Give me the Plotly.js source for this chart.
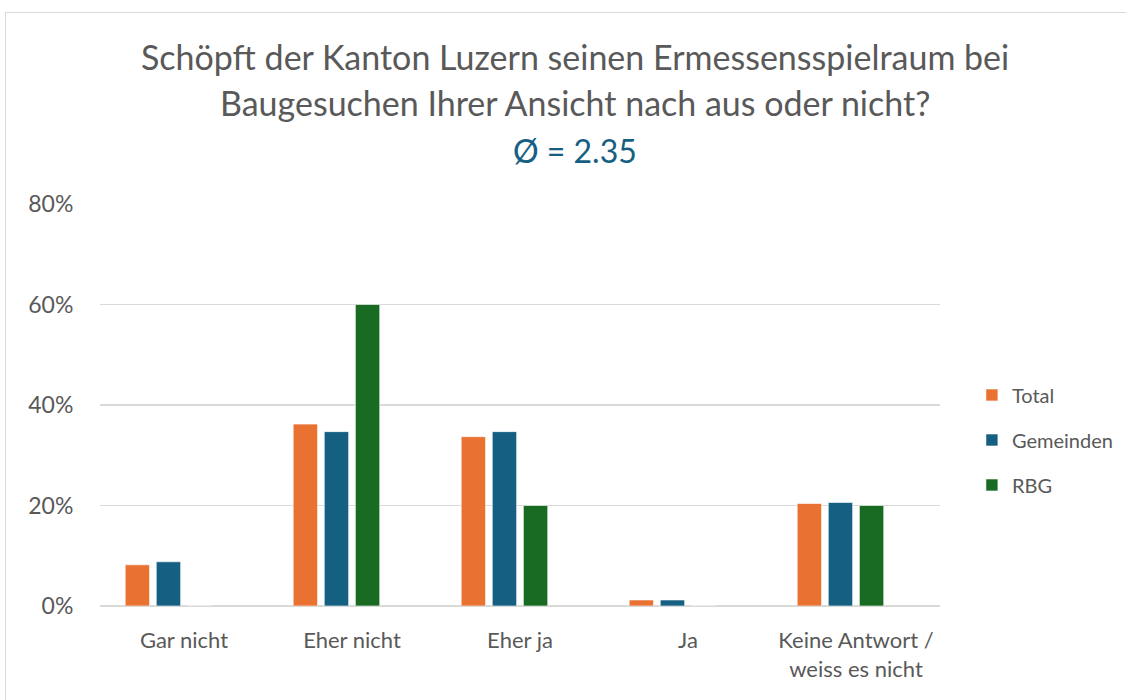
<!DOCTYPE html>
<html>
<head>
<meta charset="utf-8">
<script src="https://cdn.plot.ly/plotly-3.0.1.min.js"></script>
<style>
  html, body { margin: 0; padding: 0; background: #ffffff; width: 1126px; height: 700px; overflow: hidden; }
  #frame { position: absolute; left: 5px; top: 12px; width: 1200px; height: 800px; border: 1px solid #d9d9d9; box-sizing: border-box; }
  #chart { position: absolute; left: 0; top: 0; width: 1126px; height: 700px; }
</style>
</head>
<body>
<div id="frame"></div>
<div id="chart"></div>
<script>
const categories = ["Gar nicht", "Eher nicht", "Eher ja", "Ja", "Keine Antwort /<br>weiss es nicht"];
const seriesNames = ["Total", "Gemeinden", "RBG"];
const totalValues = [0.082, 0.362, 0.337, 0.012, 0.204];
const gemeindenValues = [0.088, 0.347, 0.347, 0.012, 0.206];
const rbgValues = [0, 0.60, 0.20, 0, 0.20];
const yTickValues = [0, 0.2, 0.4, 0.6, 0.8];
const yTickLabels = ["0%", "20%", "40%", "60%", "80%"];
const titleLine1 = "Schöpft der Kanton Luzern seinen Ermessensspielraum bei";
const titleLine2 = "Baugesuchen Ihrer Ansicht nach aus oder nicht?";
const meanLabel = "Ø = 2.35";

const colors = ["#E97132", "#156082", "#196B24"];
const offsets = [-0.35, -0.165, 0.02];
const values = [totalValues, gemeindenValues, rbgValues];
const FONT = "Lato, 'Open Sans', sans-serif";
const TXT = "#595959";

const traces = seriesNames.map((name, i) => ({
  type: "bar",
  name: name,
  x: categories,
  y: values[i],
  offset: offsets[i],
  width: 0.145,
  legendgroup: "g" + i,
  marker: { color: colors[i], line: { color: "rgba(255,255,255,0.6)", width: 1 } },
  hoverinfo: "skip"
}));

const layout = {
  width: 1126,
  height: 700,
  margin: { l: 100, r: 186, t: 204, b: 94, autoexpand: false },
  paper_bgcolor: "rgba(0,0,0,0)",
  plot_bgcolor: "rgba(0,0,0,0)",
  font: { family: FONT, color: TXT, size: 20 },
  showlegend: true,
  legend: {
    x: 1.038, xanchor: "left",
    y: 0.413, yanchor: "middle",
    font: { family: FONT, size: 20, color: TXT },
    tracegroupgap: 16,
    itemwidth: 30,
    bgcolor: "rgba(0,0,0,0)"
  },
  xaxis: {
    type: "category",
    range: [-0.5, 4.5],
    showgrid: false,
    showline: false,
    zeroline: false,
    ticks: "outside",
    ticklen: 15,
    tickcolor: "rgba(0,0,0,0)",
    tickfont: { family: FONT, size: 22, color: TXT }
  },
  yaxis: {
    range: [0, 0.8],
    tickvals: yTickValues,
    ticktext: yTickLabels,
    showgrid: true,
    gridcolor: "#d9d9d9",
    gridwidth: 1.5,
    zeroline: true,
    zerolinecolor: "#d9d9d9",
    zerolinewidth: 1.5,
    showline: false,
    ticks: "outside",
    ticklen: 21,
    tickcolor: "rgba(0,0,0,0)",
    tickfont: { family: FONT, size: 23, color: TXT }
  },
  annotations: [
    { text: titleLine1, xref: "paper", yref: "paper", x: 0.5655, y: (606 - 57) / 402, xanchor: "center", yanchor: "middle", showarrow: false, font: { family: FONT, size: 34, color: TXT } },
    { text: titleLine2, xref: "paper", yref: "paper", x: 0.5655, y: (606 - 103) / 402, xanchor: "center", yanchor: "middle", showarrow: false, font: { family: FONT, size: 34, color: TXT } },
    { text: meanLabel, xref: "paper", yref: "paper", x: 0.5655, y: (606 - 150) / 402, xanchor: "center", yanchor: "middle", showarrow: false, font: { family: FONT, size: 32, color: "#156082" } }
  ]
};

Plotly.newPlot("chart", traces, layout, { displayModeBar: false, staticPlot: true });
</script>
</body>
</html>
